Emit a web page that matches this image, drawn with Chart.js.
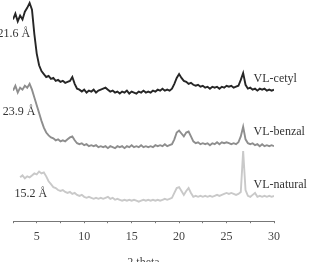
<!DOCTYPE html>
<html>
<head>
<meta charset="utf-8">
<script src="https://cdn.jsdelivr.net/npm/chart.js@4"></script>
<style>
  html, body { margin: 0; padding: 0; background: #fff; overflow: hidden; }
  #wrap { width: 309px; height: 270px; position: relative; }
</style>
</head>
<body>
<div id="wrap"><canvas id="xrd"></canvas></div>
<script>
// 2 theta from 2.5 to 30 in 0.25 steps
const theta = [];
for (let t = 2.5; t <= 30.001; t += 0.25) theta.push(Math.round(t * 100) / 100);

// stacked (offset) intensities
const cetyl = [
  207, 213, 205, 211, 207, 215, 219, 224, 217, 192, 172, 160, 154, 151, 148, 149,
  146, 147, 144, 145, 143, 144, 142, 143, 144, 148, 141, 136, 135, 133, 135, 132,
  134, 133, 135, 132, 134, 135, 136, 137, 135, 133, 134, 132, 133, 131, 133, 132,
  134, 131, 133, 132, 131, 133, 132, 134, 132, 133, 132, 134, 133, 135, 134, 136,
  134, 135, 134, 136, 141, 147, 151, 147, 144, 143, 141, 142, 140, 139, 140, 138,
  139, 137, 138, 136, 138, 137, 138, 136, 138, 137, 139, 138, 139, 137, 138, 139,
  145, 152, 140, 136, 137, 135, 136, 134, 136, 135, 136, 134, 135, 134, 135
];
const benzal = [
  134, 139, 132, 137, 135, 139, 137, 141, 135, 127, 119, 111, 103, 96, 91, 88,
  86, 85, 83, 84, 82, 83, 82, 84, 86, 87, 83, 80, 79, 80, 78, 79,
  77, 78, 77, 78, 76, 77, 76, 77, 75, 77, 76, 75, 77, 76, 77, 75,
  77, 76, 78, 76, 77, 76, 78, 76, 77, 76, 77, 76, 78, 77, 78, 77,
  79, 77, 78, 79, 84, 91, 93, 90, 87, 91, 92, 87, 82, 80, 81, 79,
  80, 79, 80, 78, 80, 79, 81, 79, 81, 80, 81, 80, 79, 80, 79, 81,
  87, 97, 84, 80, 79, 80, 78, 79, 77, 79, 77, 78, 77, 78, 77
];
const natural = [
  null, null, null, 45, 47, 44, 46, 45, 47, 49, 48, 51, 49, 50, 46, 41,
  38, 35, 34, 32, 31, 32, 30, 29, 30, 28, 29, 27, 26, 27, 25, 24,
  25, 24, 23, 24, 23, 24, 23, 24, 25, 23, 24, 22, 23, 22, 21, 22,
  21, 22, 21, 22, 21, 20, 21, 22, 21, 22, 21, 22, 21, 22, 21, 22,
  23, 22, 23, 24, 29, 34, 35, 31, 27, 31, 34, 29, 25, 26, 25, 26,
  25, 26, 25, 26, 25, 26, 27, 26, 27, 28, 29, 28, 29, 28, 27, 28,
  30, 72, 32, 26, 25, 27, 29, 25, 26, 25, 26, 25, 26, 25, 26
];

const seriesNames = ['VL-cetyl', 'VL-benzal', 'VL-natural'];
const seriesColors = ['#262626', '#8e8e8e', '#c9c9c9'];
const spacingLabels = ['21.6 \u00c5', '23.9 \u00c5', '15.2 \u00c5'];

function toPoints(arr) {
  return arr.map((v, i) => ({ x: theta[i], y: v }));
}

const labelPlugin = {
  id: 'curveLabels',
  afterDatasetsDraw(chart) {
    const ctx = chart.ctx;
    const xs = chart.scales.x, ys = chart.scales.y;
    ctx.save();
    ctx.font = '12px "Liberation Serif", "DejaVu Serif", serif';
    ctx.fillStyle = '#333';
    ctx.textBaseline = 'middle';
    // series names on the right
    const nameY = [146, 92, 37];
    ctx.textAlign = 'left';
    seriesNames.forEach((n, i) => {
      ctx.fillText(n, xs.getPixelForValue(27.85), ys.getPixelForValue(nameY[i]));
    });
    // d-spacing labels near the low angle peaks
    const dX = [4.3, 4.85, 6.1];
    const dY = [192, 112, 28];
    ctx.textAlign = 'right';
    spacingLabels.forEach((s, i) => {
      ctx.fillText(s, xs.getPixelForValue(dX[i]), ys.getPixelForValue(dY[i]));
    });
    ctx.restore();
  }
};

const ctx = document.getElementById('xrd').getContext('2d');
new Chart(ctx, {
  type: 'line',
  data: {
    datasets: [cetyl, benzal, natural].map((arr, i) => ({
      label: seriesNames[i],
      data: toPoints(arr),
      borderColor: seriesColors[i],
      borderWidth: 1.9,
      pointRadius: 0,
      tension: 0,
      fill: false,
      spanGaps: false
    }))
  },
  options: {
    responsive: true,
    maintainAspectRatio: false,
    animation: false,
    layout: { padding: { left: 13, right: 35, top: 0, bottom: 0 } },
    plugins: {
      legend: { display: false },
      tooltip: { enabled: false }
    },
    scales: {
      x: {
        type: 'linear',
        min: 2.5,
        max: 30,
        border: { display: true, color: '#777', width: 1 },
        grid: { display: true, drawOnChartArea: false, drawTicks: true, tickLength: 2, color: '#777' },
        ticks: {
          stepSize: 2.5,
          autoSkip: false,
          maxRotation: 0,
          padding: 6,
          color: '#444',
          font: { family: '"Liberation Serif", "DejaVu Serif", serif', size: 12 },
          callback: (v) => (v % 5 === 0 ? String(v) : '')
        },
        title: {
          display: true,
          text: '2 theta',
          color: '#444',
          padding: { top: 6, bottom: 0 },
          font: { family: '"Liberation Serif", "DejaVu Serif", serif', size: 12 }
        }
      },
      y: {
        display: false,
        min: 0,
        max: 227
      }
    }
  },
  plugins: [labelPlugin]
});
</script>
</body>
</html>
